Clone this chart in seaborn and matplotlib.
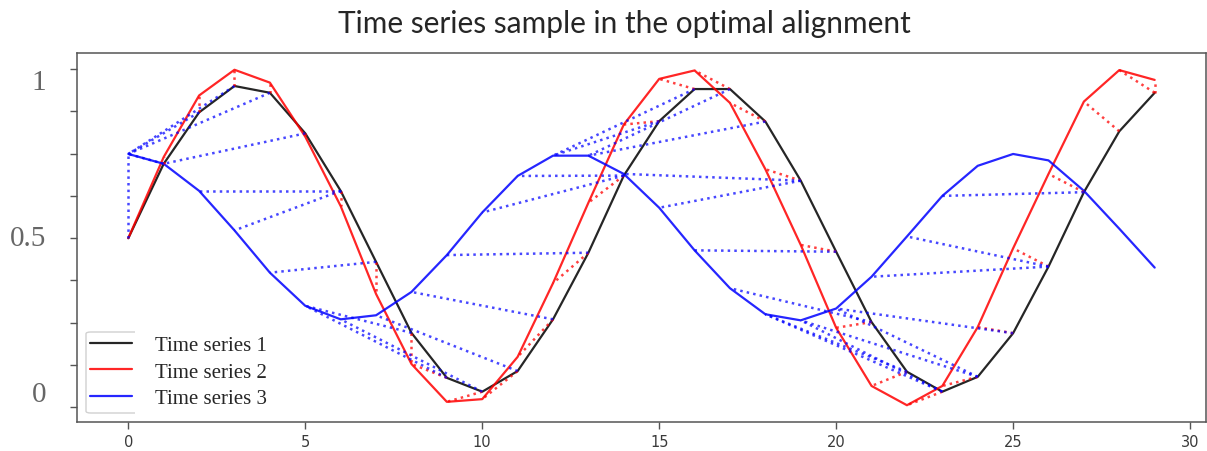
import numpy as np
import matplotlib
matplotlib.use("Agg")
import matplotlib.pyplot as plt
import pandas as pd
import seaborn as sns
from matplotlib.patches import FancyBboxPatch
from matplotlib.transforms import Bbox, TransformedBbox

# values
t = list(range(30))
serie1 = [0.50, 0.72, 0.872, 0.95, 0.93, 0.81, 0.64, 0.43, 0.22, 0.087,
          0.046, 0.107, 0.26, 0.457, 0.685, 0.846, 0.941, 0.941, 0.845, 0.67,
          0.46, 0.252, 0.105, 0.046, 0.09, 0.219, 0.416, 0.636, 0.816, 0.93]
serie2 = [0.50, 0.74, 0.922, 0.998, 0.96, 0.80, 0.595, 0.335, 0.128, 0.016,
          0.024, 0.149, 0.367, 0.605, 0.836, 0.971, 0.996, 0.90, 0.704, 0.48,
          0.235, 0.063, 0.006, 0.063, 0.237, 0.47, 0.69, 0.904, 0.997, 0.968]
serie3 = [0.749, 0.72, 0.64, 0.523, 0.398, 0.30, 0.26, 0.272, 0.341, 0.45,
          0.576, 0.684, 0.744, 0.744, 0.69, 0.59, 0.464, 0.352, 0.275, 0.257,
          0.292, 0.386, 0.505, 0.625, 0.714, 0.749, 0.73, 0.64, 0.528, 0.413]

# alignment paths (index in series 1, index in other series)
path_12 = [(0, 0), (1, 1), (2, 2), (3, 3), (4, 4), (5, 5), (6, 6), (7, 7), (8, 8),
           (9, 8), (10, 9), (11, 10), (12, 11), (13, 12), (14, 13), (15, 14),
           (16, 15), (17, 16), (18, 17), (19, 18), (20, 19), (21, 20), (22, 21),
           (23, 22), (24, 23), (25, 24), (26, 25), (27, 26), (28, 27), (29, 28),
           (29, 29)]
path_13 = [(0, 0), (1, 0), (2, 0), (3, 0), (4, 0), (5, 1), (6, 2), (6, 3), (7, 4),
           (8, 5), (9, 5), (10, 6), (11, 7), (12, 8), (13, 9), (14, 10), (14, 11),
           (15, 12), (16, 12), (17, 13), (18, 13), (19, 14), (19, 15), (20, 16),
           (21, 17), (22, 18), (23, 18), (23, 19), (24, 19), (24, 20), (25, 20),
           (26, 21), (26, 22), (27, 23)]

etichette = ["Time series 1", "Time series 2", "Time series 3"]
colori = {"Time series 1": "k", "Time series 2": "r", "Time series 3": "b"}

df = pd.DataFrame({
    "t": t * 3,
    "valore": serie1 + serie2 + serie3,
    "serie": [etichette[0]] * 30 + [etichette[1]] * 30 + [etichette[2]] * 30,
})

sns.set_style("ticks")
plt.rcParams["font.family"] = ["DejaVu Sans"]

fig = plt.figure(figsize=(12.07, 4.52), dpi=100)
ax = fig.add_axes([77 / 1207, 29 / 452, 1129 / 1207, 369 / 452])

sns.lineplot(data=df, x="t", y="valore", hue="serie", palette=colori,
             linewidth=1.6, alpha=0.85, legend=False, sort=False, ax=ax)
linee = ax.get_lines()[:3]

for i, k in path_12:
    ax.plot([t[i], t[k]], [serie1[i], serie2[k]], ":", color="r", lw=1.8, alpha=0.75)
for i, j in path_13:
    ax.plot([t[i], t[j]], [serie1[i], serie3[j]], ":", color="b", lw=1.8, alpha=0.72)

ax.set_xlabel("")
ax.set_ylabel("")
ax.set_xticks([0, 5, 10, 15, 20, 25, 30])
ax.tick_params(axis="x", labelsize=10.5, labelcolor="#3a3a3a", length=5,
               width=1, color="#555555", pad=3.5)
yt = np.arange(0, 1.001, 0.125)
ax.set_yticks(yt)
ax.set_yticklabels(["0", "", "", "", "0.5", "", "", "", "1"],
                   fontfamily="Liberation Serif", fontsize=21, color="#666666")
ax.tick_params(axis="y", length=5, width=1, color="#555555", pad=17)
for lab, va in zip(ax.get_yticklabels(), ["bottom", "center", "center", "center",
                                          "center", "center", "center", "center", "top"]):
    lab.set_va(va)
for sp in ax.spines.values():
    sp.set_color("#555555")
    sp.set_linewidth(1.1)

# legend frame (cut on the right side as in the picture)
cornice = FancyBboxPatch((86 / 1207, 38 / 452), 0.2, 81 / 452,
                         boxstyle="round,pad=0,rounding_size=0.004",
                         transform=fig.transFigure, fc="white", ec="#cccccc",
                         lw=1, alpha=0.9, zorder=4.5)
ax.add_patch(cornice)
cornice.set_clip_box(TransformedBbox(Bbox([[0, 0], [135 / 1207, 1]]), fig.transFigure))

ax.legend(linee, etichette, loc="lower left", bbox_to_anchor=(0.0115, 0.038),
          frameon=False, prop={"family": "Liberation Serif", "size": 15},
          handlelength=2.0, handletextpad=1.1, labelspacing=0.32,
          borderpad=0, borderaxespad=0)

fig.text(0.517, 1 - 24 / 452, "Time series sample in the optimal alignment",
         ha="center", va="center", fontsize=21.5, family="Lato")

fig.savefig("out.png", dpi=100)
